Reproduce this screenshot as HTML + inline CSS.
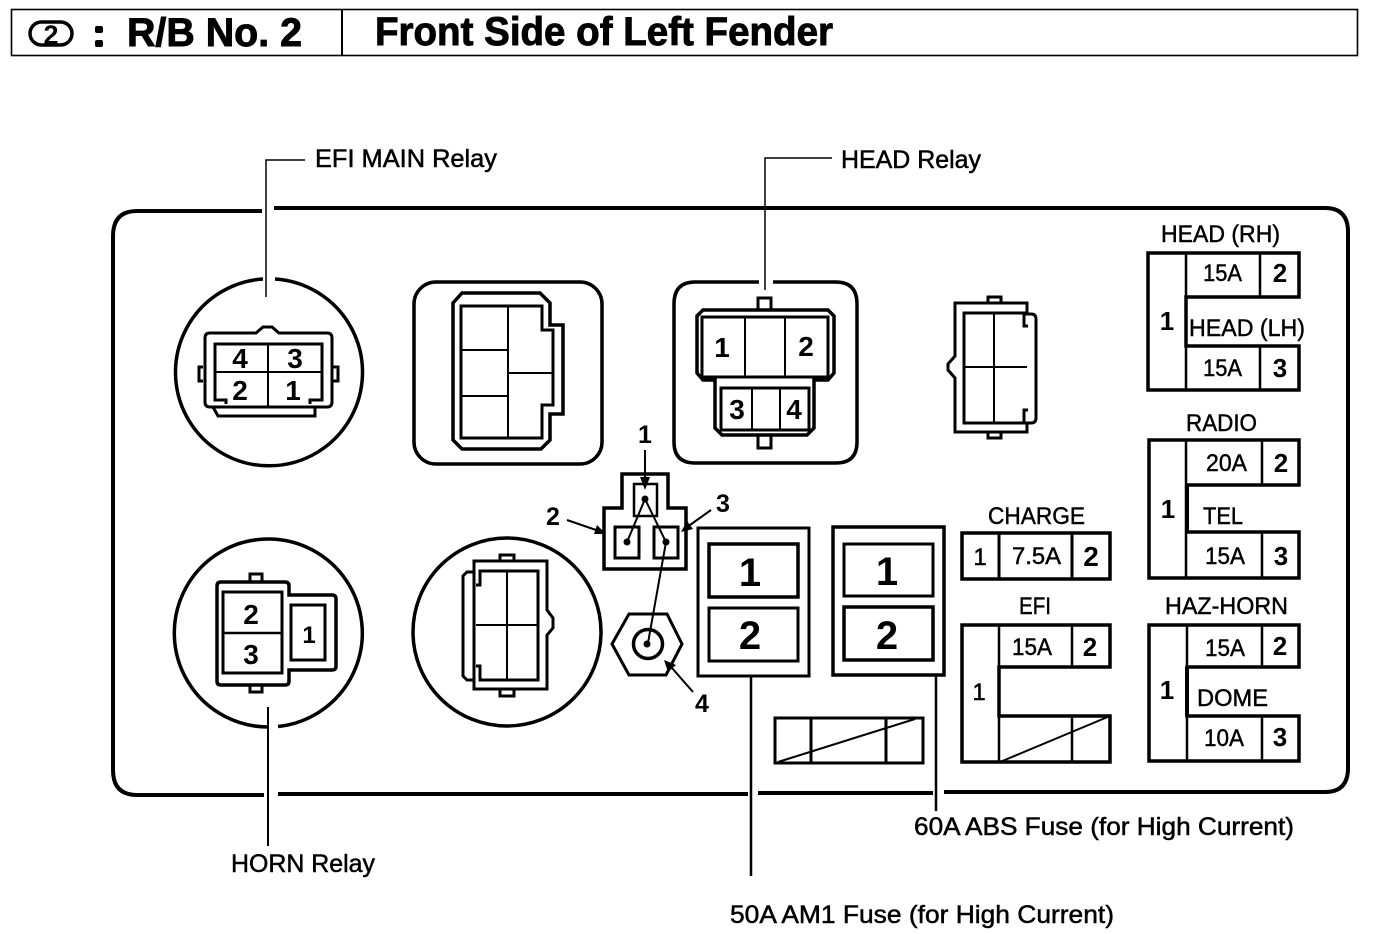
<!DOCTYPE html>
<html><head><meta charset="utf-8"><style>
html,body{margin:0;padding:0;background:#fff}
svg{display:block}
text{font-family:"Liberation Sans",sans-serif;fill:#000}
.b{font-weight:bold}
.h{font-weight:bold;stroke:#000;stroke-width:.9px}
.l{font-size:25px;stroke:#000;stroke-width:.5px}
.s{font-size:24px;stroke:#000;stroke-width:.45px}
.n{font-size:28px;font-weight:bold;text-anchor:middle}
.m{font-size:40px;font-weight:bold;text-anchor:middle}
.g{fill:none;stroke:#000;stroke-width:3}
.t{fill:none;stroke:#000;stroke-width:2}
.k{fill:none;stroke:#000;stroke-width:3.5}
</style></head><body>
<svg width="1376" height="934" viewBox="0 0 1376 934" xmlns="http://www.w3.org/2000/svg">
<!-- header -->
<rect x="11.5" y="9.5" width="1346" height="46" fill="none" stroke="#000" stroke-width="1.6"/>
<line x1="342" y1="9" x2="342" y2="56" stroke="#000" stroke-width="2"/>
<rect x="30" y="22" width="42" height="23" rx="11.5" class="k"/>
<text x="51" y="44" font-size="27" class="b" text-anchor="middle">2</text>
<rect x="95" y="26" width="8" height="7" rx="2"/><rect x="95" y="40" width="8" height="7" rx="2"/>
<text x="127" y="46" font-size="40" class="h" textLength="175" lengthAdjust="spacingAndGlyphs">R/B No. 2</text>
<text x="375" y="45" font-size="40" class="h" textLength="458" lengthAdjust="spacingAndGlyphs">Front Side of Left Fender</text>

<!-- panel -->
<path d="M262 211H137Q113 211 113 236V770Q113 795 137 795H264M278 794H748M758 793H933M944 792H1325Q1348 792 1348 768V232Q1348 208 1325 208H274" fill="none" stroke="#000" stroke-width="4"/>

<!-- leaders -->
<path d="M305 160H266V297" fill="none" stroke="#000" stroke-width="1.5"/>
<path d="M832 158H765V290" fill="none" stroke="#000" stroke-width="1.5"/>
<line x1="268" y1="707" x2="268" y2="846" stroke="#000" stroke-width="2"/>
<line x1="751" y1="677" x2="751" y2="876" stroke="#000" stroke-width="2.5"/>
<line x1="936" y1="675" x2="936" y2="811" stroke="#000" stroke-width="2.5"/>
<text x="315" y="167" class="l" textLength="182" lengthAdjust="spacingAndGlyphs">EFI MAIN Relay</text>
<text x="841" y="168" class="l" textLength="140" lengthAdjust="spacingAndGlyphs">HEAD Relay</text>
<text x="231" y="872" class="l" textLength="144" lengthAdjust="spacingAndGlyphs">HORN Relay</text>
<text x="914" y="835" class="l" textLength="380" lengthAdjust="spacingAndGlyphs">60A ABS Fuse (for High Current)</text>
<text x="730" y="923" class="l" textLength="384" lengthAdjust="spacingAndGlyphs">50A AM1 Fuse (for High Current)</text>

<!-- EFI MAIN relay -->
<path d="M263 279A93.5 93.5 0 1 0 275 279" class="k"/>
<path d="M203 367h-4v14h4M332 367h6v14h-6" class="g"/>
<path d="M213 333H256L263 327H272L279 333H327Q332 333 332 338V402Q332 407 327 407H315V416H218L213 407H210Q205 407 205 402V338Q205 333 210 333Z" class="g"/>
<path d="M213 407H322" class="g"/>
<path d="M226 404V400H215V344H322V400H310V404" class="g"/>
<path d="M268 344V406M215 372H322" class="t"/>
<text x="240" y="368" class="n">4</text><text x="295" y="368" class="n">3</text>
<text x="240" y="400" class="n">2</text><text x="293" y="400" class="n">1</text>

<!-- box 2 -->
<rect x="414" y="282" width="188" height="182" rx="22" class="k"/>
<path d="M462 293H540L550 303V325H563V414H550V440L541 449H462L453 440V303Z" class="k"/>
<path d="M461 306H542V330H553V405H542V438H461Z" class="g"/>
<path d="M508 306V438M461 350H508M461 396H508M508 373H553" class="t"/>

<!-- head relay -->
<path d="M759 282H695Q674 282 674 304V442Q674 463 695 463H836Q857 463 857 442V304Q857 282 836 282H773" class="k"/>
<path d="M758 310V298H771V310M758 435V448H771V435" class="g"/>
<path d="M703 310H828L834 316V373L828 380H814V428L807 435H722L715 428V380H703L697 373V316Z" class="k"/>
<rect x="702" y="317" width="126" height="60" class="g"/>
<path d="M745 317V377M785 317V377" class="t"/>
<rect x="721" y="388" width="88" height="42" class="g"/>
<path d="M752 388V430M780 388V430" class="t"/>
<text x="722" y="357" class="n">1</text><text x="806" y="356" class="n">2</text>
<text x="737" y="419" class="n">3</text><text x="794" y="419" class="n">4</text>

<!-- right connector -->
<path d="M988 303V297H1001V303M988 432V438H1001V432" class="g"/>
<path d="M955 303H1027V314H1031Q1036 314 1036 319V418Q1036 423 1031 423H1027V432H955V378L948 370V364L955 356Z" class="g"/>
<path d="M1028 326H1024V313H964V423H1024V410H1028" class="g"/>
<path d="M994 313V423M964 367H1027" class="t"/>

<!-- horn relay -->
<path d="M268 727A94 94 0 1 1 278 726.5" class="k"/>
<path d="M250 582V574H262V582M250 685V692H262V685" class="g"/>
<path d="M221 582H285Q289 582 289 586V595H332Q336 595 336 599V666Q336 670 332 670H289V681Q289 685 285 685H221Q217 685 217 681V586Q217 582 221 582Z" class="k"/>
<rect x="223" y="592" width="59" height="81" class="g"/>
<line x1="223" y1="633" x2="282" y2="633" stroke="#000" stroke-width="2.5"/>
<rect x="291" y="605" width="34" height="55" class="g"/>
<text x="251" y="624" class="n">2</text><text x="251" y="664" class="n">3</text><text x="309" y="643" class="n" style="font-size:24px">1</text>

<!-- lower middle -->
<circle cx="507" cy="632" r="94" class="k"/>
<path d="M500 561V555H514V561M500 689V696H514V689" class="g"/>
<path d="M474 572H467L463 576V676L467 680H474" class="g"/>
<path d="M474 561H547V610L553 618V628L547 635V689H474Z" class="g"/>
<path d="M476 585H480V571H538V680H480V666H476" class="g"/>
<path d="M507 571V680M476 625H538" class="t"/>

<!-- ground connector -->
<path d="M622 508V474H668V508H686V569H604V508Z" class="k"/>
<rect x="634" y="484" width="23" height="32" fill="none" stroke="#000" stroke-width="2.5"/>
<rect x="615" y="527" width="24" height="31" class="g"/>
<rect x="654" y="527" width="24" height="31" class="g"/>
<path d="M627 542L645 499L666 542L648 643" class="t"/>
<circle cx="645" cy="499" r="3.5"/><circle cx="627" cy="542" r="3.5"/><circle cx="666" cy="542" r="3.5"/>
<path d="M612 644L629 614H667L682 644L666 675H629Z" class="g"/>
<circle cx="648" cy="644" r="14.5" class="k"/>
<circle cx="647" cy="644" r="3.5"/>
<!-- arrows -->
<line x1="645" y1="450" x2="645" y2="480" stroke="#000" stroke-width="2"/><path d="M640 477H650L645 490Z"/>
<line x1="567" y1="520" x2="596" y2="530" stroke="#000" stroke-width="2"/><path d="M597 525L594 534L606 534Z"/>
<line x1="711" y1="510" x2="690" y2="525" stroke="#000" stroke-width="2"/><path d="M687 521L693 529L681 532Z"/>
<line x1="693" y1="692" x2="672" y2="668" stroke="#000" stroke-width="2"/><path d="M676 665L668 672L664 660Z"/>
<g class="b" font-size="25" text-anchor="middle">
<text x="645" y="443">1</text><text x="553" y="525">2</text><text x="723" y="512">3</text><text x="702" y="712">4</text>
</g>

<!-- big fuses -->
<rect x="698" y="528" width="111" height="148" class="g"/>
<rect x="709" y="544" width="89" height="53" class="k"/>
<rect x="709" y="608" width="89" height="53" class="g"/>
<text x="750" y="586" class="m">1</text><text x="750" y="649" class="m">2</text>
<rect x="833" y="527" width="111" height="148" class="k"/>
<rect x="844" y="544" width="89" height="52" class="g"/>
<rect x="844" y="607" width="89" height="53" class="k"/>
<text x="887" y="585" class="m">1</text><text x="887" y="649" class="m">2</text>

<!-- small blank -->
<rect x="775" y="718" width="148" height="45" class="g"/>
<path d="M811 718V763M886 718V763" class="g"/>
<line x1="778" y1="762" x2="915" y2="719" stroke="#000" stroke-width="2"/>

<!-- CHARGE -->
<text x="988" y="524" class="s" textLength="97" lengthAdjust="spacingAndGlyphs">CHARGE</text>
<rect x="962" y="533" width="148" height="46" class="k"/>
<path d="M999 533V579M1072 533V579" class="g"/>
<text x="980" y="565" class="s" text-anchor="middle">1</text>
<text x="1012" y="564" class="s" textLength="49" lengthAdjust="spacingAndGlyphs">7.5A</text>
<text x="1091" y="566" class="n">2</text>

<!-- EFI -->
<text x="1019" y="614" class="s" textLength="32" lengthAdjust="spacingAndGlyphs">EFI</text>
<path d="M962 625H1110V667H999V716H1110V762H962Z" class="k"/>
<path d="M999 625V762M1072 625V667M1072 716V762" fill="none" stroke="#000" stroke-width="2.5"/>
<line x1="1000" y1="762" x2="1110" y2="716" stroke="#000" stroke-width="2"/>
<text x="979" y="700" class="s" text-anchor="middle">1</text>
<text x="1012" y="655" class="s" textLength="40" lengthAdjust="spacingAndGlyphs">15A</text>
<text x="1090" y="656" class="n" style="font-size:26px">2</text>

<!-- HEAD block -->
<text x="1161" y="242" class="s" textLength="119" lengthAdjust="spacingAndGlyphs">HEAD (RH)</text>
<path d="M1148 253H1299V297H1186V346H1299V390H1148Z" class="k"/>
<path d="M1186 253V390M1260 253V297M1260 346V390" fill="none" stroke="#000" stroke-width="2.5"/>
<text x="1189" y="336" class="s" textLength="116" lengthAdjust="spacingAndGlyphs">HEAD (LH)</text>
<text x="1167" y="330" class="n" style="font-size:26px">1</text>
<text x="1203" y="281" class="s" textLength="39" lengthAdjust="spacingAndGlyphs">15A</text>
<text x="1203" y="376" class="s" textLength="39" lengthAdjust="spacingAndGlyphs">15A</text>
<text x="1280" y="282" class="n" style="font-size:26px">2</text>
<text x="1280" y="377" class="n" style="font-size:26px">3</text>

<!-- RADIO -->
<text x="1186" y="431" class="s" textLength="71" lengthAdjust="spacingAndGlyphs">RADIO</text>
<path d="M1149 440H1299V485H1187V532H1299V578H1149Z" class="k"/>
<path d="M1186 440V578M1262 440V485M1262 532V578" fill="none" stroke="#000" stroke-width="2.5"/>
<line x1="1187" y1="485" x2="1187" y2="532" stroke="#000" stroke-width="4"/>
<text x="1203" y="524" class="s" textLength="40" lengthAdjust="spacingAndGlyphs">TEL</text>
<text x="1168" y="518" class="n" style="font-size:26px">1</text>
<text x="1206" y="471" class="s" textLength="41" lengthAdjust="spacingAndGlyphs">20A</text>
<text x="1205" y="564" class="s" textLength="40" lengthAdjust="spacingAndGlyphs">15A</text>
<text x="1281" y="472" class="n" style="font-size:26px">2</text>
<text x="1281" y="565" class="n" style="font-size:26px">3</text>

<!-- HAZ-HORN -->
<text x="1165" y="614" class="s" textLength="123" lengthAdjust="spacingAndGlyphs">HAZ-HORN</text>
<path d="M1149 625H1299V667H1187V716H1299V761H1149Z" class="k"/>
<path d="M1187 625V761M1262 625V667M1262 716V761" fill="none" stroke="#000" stroke-width="2.5"/>
<line x1="1187" y1="667" x2="1187" y2="716" stroke="#000" stroke-width="4"/>
<text x="1197" y="706" class="s" textLength="71" lengthAdjust="spacingAndGlyphs">DOME</text>
<text x="1167" y="699" class="n" style="font-size:26px">1</text>
<text x="1205" y="656" class="s" textLength="40" lengthAdjust="spacingAndGlyphs">15A</text>
<text x="1204" y="746" class="s" textLength="40" lengthAdjust="spacingAndGlyphs">10A</text>
<text x="1280" y="655" class="n" style="font-size:26px">2</text>
<text x="1280" y="746" class="n" style="font-size:26px">3</text>
</svg>
</body></html>
